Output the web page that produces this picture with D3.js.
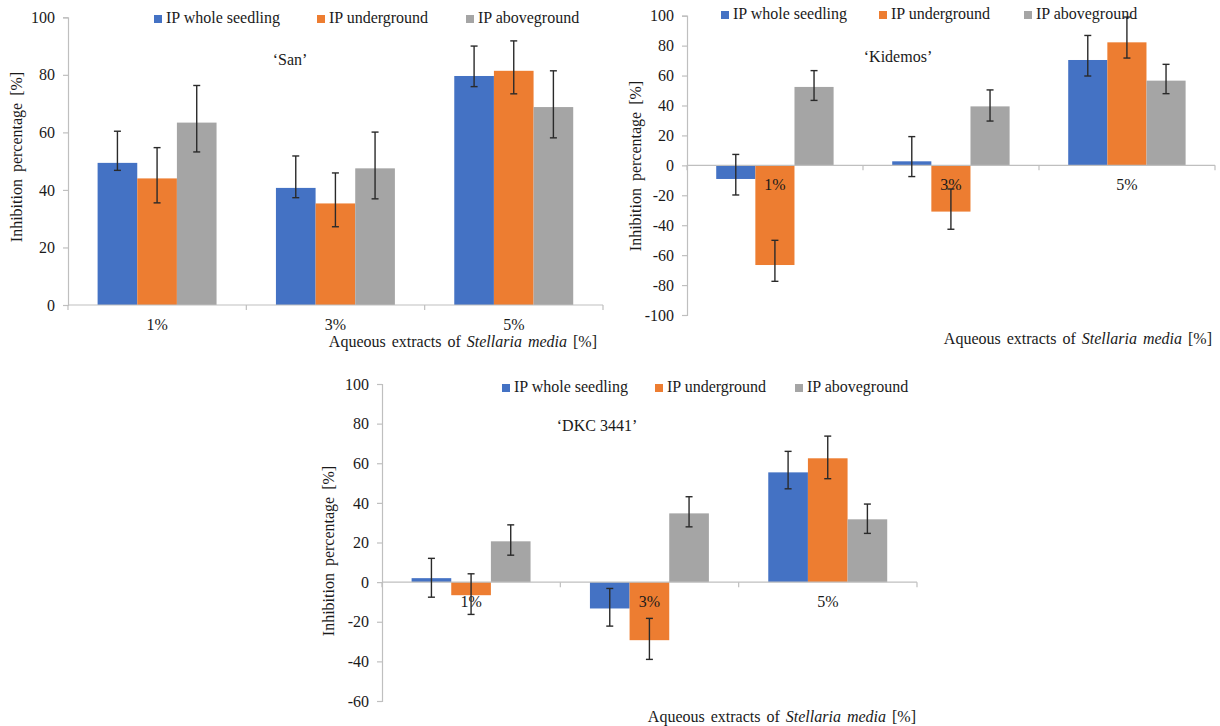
<!DOCTYPE html>
<html>
<head>
<meta charset="utf-8">
<script src="https://cdn.jsdelivr.net/npm/d3@7"></script>
<style>
  html, body { margin: 0; padding: 0; background: #fff; }
  svg { display: block; font-family: "Liberation Serif", "Times New Roman", serif; }
</style>
</head>
<body>
<svg id="chart" width="1220" height="726"></svg>
<script>
// ---------- data ----------
const categories = ["1%", "3%", "5%"];
const seriesNames = ["IP whole seedling", "IP underground", "IP aboveground"];
const seriesColors = ["#4472C4", "#ED7D31", "#A5A5A5"];

// 'San'
const sanWhole   = [49.4, 40.7, 79.6];
const sanWholeHi = [60.4, 51.8, 90.0];
const sanWholeLo = [46.8, 37.3, 75.9];
const sanUnder   = [44.0, 35.3, 81.4];
const sanUnderHi = [54.7, 45.9, 91.8];
const sanUnderLo = [35.5, 27.2, 73.4];
const sanAbove   = [63.4, 47.5, 68.8];
const sanAboveHi = [76.3, 60.1, 81.4];
const sanAboveLo = [53.2, 36.9, 58.1];
const sanTicks   = [0, 20, 40, 60, 80, 100];

// 'Kidemos'
const kidWhole   = [-9.1, 2.7, 70.4];
const kidWholeHi = [7.3, 19.2, 86.8];
const kidWholeLo = [-19.8, -7.5, 59.7];
const kidUnder   = [-66.6, -30.9, 82.2];
const kidUnderHi = [-50.1, -15.8, 99.1];
const kidUnderLo = [-77.5, -42.7, 71.7];
const kidAbove   = [52.4, 39.4, 56.6];
const kidAboveHi = [63.3, 50.4, 67.5];
const kidAboveLo = [43.4, 29.6, 47.9];
const kidTicks   = [-100, -80, -60, -40, -20, 0, 20, 40, 60, 80, 100];

// 'DKC 3441'
const dkcWhole   = [2.0, -13.3, 55.4];
const dkcWholeHi = [12.0, -3.2, 66.0];
const dkcWholeLo = [-7.6, -22.2, 47.1];
const dkcUnder   = [-6.6, -29.3, 62.5];
const dkcUnderHi = [4.2, -18.3, 73.7];
const dkcUnderLo = [-16.3, -39.0, 52.2];
const dkcAbove   = [20.6, 34.7, 31.7];
const dkcAboveHi = [28.9, 43.1, 39.4];
const dkcAboveLo = [13.6, 27.9, 24.6];
const dkcTicks   = [-60, -40, -20, 0, 20, 40, 60, 80, 100];

const svg = d3.select("#chart");
const axisColor = "#bfbfbf";
const textColor = "#1a1a1a";

function drawPanel(p) {
  const g = svg.append("g");
  const x = d3.scaleBand().domain(categories).range([p.x0, p.x1]).padding(0);
  const bw = x.bandwidth();
  const xs = d3.scaleBand().domain(d3.range(seriesNames.length))
    .range([bw * 0.166, bw * 0.833]).padding(0);
  const y = d3.scaleLinear().domain(p.domain).range([p.yBot, p.yTop]);
  const y0 = y(0);

  // y axis
  const yAxis = d3.axisLeft(y).tickValues(p.ticks).tickSize(5).tickPadding(8).tickFormat(d => String(d));
  const ya = g.append("g").attr("transform", `translate(${p.x0},0)`).call(yAxis);
  ya.select(".domain").attr("stroke", axisColor).attr("stroke-width", 1.2);
  ya.selectAll(".tick line").attr("stroke", axisColor).attr("stroke-width", 1.2);
  ya.selectAll(".tick text").attr("fill", textColor).style("font-size", "16px")
    .style("font-family", "Liberation Serif");

  // bars
  const rows = [];
  p.series.forEach((s, si) => {
    categories.forEach((c, ci) => {
      rows.push({ c, si, v: s.v[ci], hi: s.hi[ci], lo: s.lo[ci] });
    });
  });
  g.selectAll("rect.bar").data(rows).join("rect")
    .attr("class", "bar")
    .attr("x", d => x(d.c) + xs(d.si))
    .attr("width", xs.bandwidth())
    .attr("y", d => Math.min(y(d.v), y0))
    .attr("height", d => Math.abs(y(d.v) - y0))
    .attr("fill", d => seriesColors[d.si]);

  // x axis
  const xAxis = d3.axisBottom(x).tickValues([]).tickSizeOuter(0);
  const xa = g.append("g").attr("transform", `translate(0,${y0})`).call(xAxis);
  xa.select(".domain").remove();
  xa.append("line").attr("x1", p.x0).attr("x2", p.x1).attr("y1", 0).attr("y2", 0)
    .attr("stroke", axisColor).attr("stroke-width", 1.2);
  const bounds = categories.map(c => x(c)).concat([p.x1]);
  xa.selectAll("line.tk").data(bounds).join("line").attr("class", "tk")
    .attr("x1", d => d).attr("x2", d => d).attr("y1", 0).attr("y2", 5)
    .attr("stroke", axisColor).attr("stroke-width", 1.2);

  // category labels
  g.selectAll("text.cat").data(categories).join("text").attr("class", "cat")
    .attr("x", d => x(d) + bw / 2)
    .attr("y", y0 + 21)
    .attr("text-anchor", "middle").attr("dominant-baseline", "middle")
    .attr("fill", textColor).style("font-size", "16px")
    .text(d => d);

  // error bars
  const eb = g.selectAll("g.err").data(rows).join("g").attr("class", "err");
  const cx = d => x(d.c) + xs(d.si) + xs.bandwidth() / 2;
  eb.append("line").attr("x1", cx).attr("x2", cx)
    .attr("y1", d => y(d.hi)).attr("y2", d => y(d.lo));
  eb.append("line").attr("x1", d => cx(d) - 3.5).attr("x2", d => cx(d) + 3.5)
    .attr("y1", d => y(d.hi)).attr("y2", d => y(d.hi));
  eb.append("line").attr("x1", d => cx(d) - 3.5).attr("x2", d => cx(d) + 3.5)
    .attr("y1", d => y(d.lo)).attr("y2", d => y(d.lo));
  eb.selectAll("line").attr("stroke", "#2a2a2a").attr("stroke-width", 1.4);

  // legend
  const lg = g.selectAll("g.leg").data(seriesNames).join("g").attr("class", "leg")
    .attr("transform", (d, i) => `translate(${p.legX[i]},${p.legY})`);
  lg.append("rect").attr("x", 0).attr("y", -4).attr("width", 8).attr("height", 8)
    .attr("fill", (d, i) => seriesColors[i]);
  lg.append("text").attr("x", 12).attr("y", 0).attr("dominant-baseline", "middle")
    .attr("fill", textColor).style("font-size", "16px").text(d => d);

  // panel title
  g.append("text").attr("x", p.titleX).attr("y", p.titleY)
    .attr("text-anchor", "middle").attr("dominant-baseline", "middle")
    .attr("fill", textColor).style("font-size", "16px").text(p.title);

  // y title
  g.append("text").attr("transform", `translate(${p.yTitleX},${p.yTitleY}) rotate(-90)`)
    .attr("text-anchor", "middle").attr("dominant-baseline", "middle")
    .attr("fill", textColor).style("font-size", "16px").style("word-spacing", "3px")
    .text("Inhibition percentage [%]");

  // x title
  const xt = g.append("text").attr("x", p.xTitleX).attr("y", p.xTitleY)
    .attr("text-anchor", p.xTitleAnchor).attr("dominant-baseline", "middle")
    .attr("fill", textColor).style("font-size", "16px").style("word-spacing", "2px");
  xt.append("tspan").text("Aqueous extracts of ");
  xt.append("tspan").style("font-style", "italic").text("Stellaria media");
  xt.append("tspan").text(" [%]");
}

drawPanel({
  x0: 68, x1: 603, yTop: 17.3, yBot: 305, domain: [0, 100], ticks: sanTicks,
  series: [
    { v: sanWhole, hi: sanWholeHi, lo: sanWholeLo },
    { v: sanUnder, hi: sanUnderHi, lo: sanUnderLo },
    { v: sanAbove, hi: sanAboveHi, lo: sanAboveLo }
  ],
  legX: [154, 317, 466], legY: 19,
  title: "\u2018San\u2019", titleX: 290, titleY: 61,
  yTitleX: 18, yTitleY: 157,
  xTitleX: 597, xTitleY: 343, xTitleAnchor: "end"
});

drawPanel({
  x0: 687, x1: 1215, yTop: 15.7, yBot: 315, domain: [-100, 100], ticks: kidTicks,
  series: [
    { v: kidWhole, hi: kidWholeHi, lo: kidWholeLo },
    { v: kidUnder, hi: kidUnderHi, lo: kidUnderLo },
    { v: kidAbove, hi: kidAboveHi, lo: kidAboveLo }
  ],
  legX: [721, 879, 1024], legY: 15,
  title: "\u2018Kidemos\u2019", titleX: 898, titleY: 58,
  yTitleX: 637, yTitleY: 166,
  xTitleX: 1212, xTitleY: 340, xTitleAnchor: "end"
});

drawPanel({
  x0: 382, x1: 917, yTop: 384, yBot: 701, domain: [-60, 100], ticks: dkcTicks,
  series: [
    { v: dkcWhole, hi: dkcWholeHi, lo: dkcWholeLo },
    { v: dkcUnder, hi: dkcUnderHi, lo: dkcUnderLo },
    { v: dkcAbove, hi: dkcAboveHi, lo: dkcAboveLo }
  ],
  legX: [502, 655, 795], legY: 388,
  title: "\u2018DKC 3441\u2019", titleX: 597, titleY: 427,
  yTitleX: 330, yTitleY: 551,
  xTitleX: 916, xTitleY: 718, xTitleAnchor: "end"
});
</script>
</body>
</html>
